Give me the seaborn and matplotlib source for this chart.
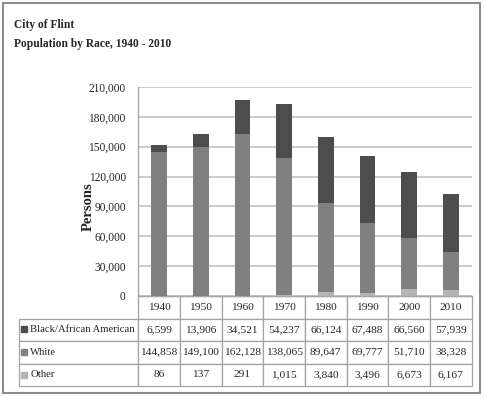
import numpy as np
import pandas as pd
import matplotlib
matplotlib.use("Agg")
import matplotlib.pyplot as plt
import matplotlib.patches as mpatches
from matplotlib.ticker import FuncFormatter
import seaborn as sns

years = ["1940", "1950", "1960", "1970", "1980", "1990", "2000", "2010"]
black = [6599, 13906, 34521, 54237, 66124, 67488, 66560, 57939]
white = [144858, 149100, 162128, 138065, 89647, 69777, 51710, 38328]
other = [86, 137, 291, 1015, 3840, 3496, 6673, 6167]

series_names = ["Black/African American", "White", "Other"]
series_colors = ["#4d4d4d", "#808080", "#b4b4b4"]

df = pd.DataFrame({"year": years, "black": black, "white": white, "other": other})
df["cum_other"] = df["other"]
df["cum_white"] = df["cum_other"] + df["white"]
df["cum_black"] = df["cum_white"] + df["black"]

sns.set_style("white")
plt.rcParams["font.family"] = ["Liberation Serif", "DejaVu Serif"]

W, H = 484, 398
fig = plt.figure(figsize=(W / 100, H / 100), dpi=100)

# plot area in pixels
L, R, T, B = 138.3, 471.7, 87, 296
ax = fig.add_axes([L / W, 1 - B / H, (R - L) / W, (B - T) / H])


def ax_x(px):
    return (px - L) / (R - L)


def ax_y(py):
    return (B - py) / (B - T)


# stacked bars: draw cumulative totals from top layer down
for col, color in zip(["cum_black", "cum_white", "cum_other"], series_colors):
    sns.barplot(data=df, x="year", y=col, color=color, width=0.38,
                saturation=1, ax=ax, linewidth=0, zorder=3)

ax.set_xlim(-0.5, len(years) - 0.5)
ax.set_ylim(0, 210000)
ax.set_yticks(np.arange(0, 210001, 30000))
ax.yaxis.set_major_formatter(FuncFormatter(lambda v, p: f"{int(v):,}"))
ax.tick_params(axis="y", length=0, pad=9, labelsize=8.3)
ax.set_xticks([])
ax.set_xlabel("")
ax.grid(axis="y", color="#bdbdbd", linewidth=1.1, zorder=0)
ax.set_axisbelow(True)
for s in ["top", "right"]:
    ax.spines[s].set_visible(False)
for s in ["left", "bottom"]:
    ax.spines[s].set_color("#a6a6a6")
    ax.spines[s].set_linewidth(1)

ax.set_ylabel("Persons", fontsize=10.5, fontweight="bold")
ax.yaxis.set_label_coords(ax_x(95), ax_y(207))

# data table below the axis (data columns span the axes width)
edge = "#a3a3a3"
cell_text = [[f"{v:,}" for v in vals] for vals in [black, white, other]]
tab = ax.table(cellText=cell_text, colLabels=years, cellLoc="center",
               colLoc="center", bbox=[0, ax_y(386), 1, ax_y(B) - ax_y(386)])
ref = tab[1, 0]
lab_w = ref.get_width() * 119.0 / 41.7
for i, name in enumerate(series_names, start=1):
    tab.add_cell(i, -1, width=lab_w, height=ref.get_height(), text=name, loc="left")
tab.auto_set_font_size(False)
tab.set_fontsize(8.2)
for (r, c), cell in tab.get_celld().items():
    cell.set_linewidth(0.9)
    cell.set_edgecolor(edge)
    if c == -1:
        cell.get_text().set_fontsize(7.7)
        cell.PAD = 0.092

# legend keys in the row label cells
for i, color in enumerate(series_colors):
    row_mid = 318 + 22.7 * i + 11.3
    ax.plot([ax_x(24)], [ax_y(row_mid)], marker="s", ms=4.0, color=color,
            transform=ax.transAxes, clip_on=False, linestyle="none")

# titles
fig.text(14 / W, 1 - 28.3 / H, "City of Flint", fontsize=8.3, fontweight="bold", va="baseline")
fig.text(14 / W, 1 - 46.7 / H, "Population by Race, 1940 - 2010", fontsize=8.3,
         fontweight="bold", va="baseline")

# outer frame
fig.patches.append(mpatches.Rectangle((3 / W, 1 - 393 / H), 477 / W, 390 / H,
                                      transform=fig.transFigure, fill=False,
                                      edgecolor="#8c8c8c", linewidth=1.5))

fig.savefig("out.png", dpi=100)
